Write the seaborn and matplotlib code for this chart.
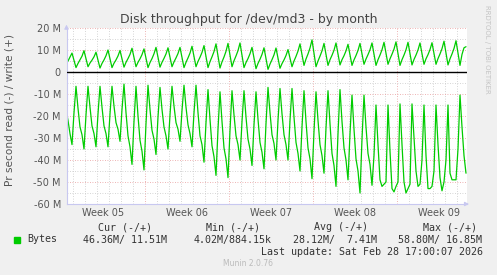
import matplotlib
matplotlib.use("Agg")
import matplotlib.pyplot as plt
import matplotlib.dates as mdates
from matplotlib.ticker import MultipleLocator, FuncFormatter, NullFormatter
from matplotlib.patches import Rectangle
import numpy as np
import pandas as pd
import seaborn as sns

# ---------------- data (MB/s), one sample every 4 h ----------------
start_time = "2026-01-26 10:00"
# read (plotted negative), per day: h2, h6, h10, h14, h18, h22
read_mb = [
    -17, -22, -28, -33,                       # Jan 26 (h10..h22)
    -18.5, -6.5, -16.5, -25, -28.5, -35,
    -19.5, -6.5, -16, -24.5, -28, -34,
    -19, -6.5, -16, -24.5, -28, -34,
    -19, -6.5, -15.5, -23, -26, -31.5,
    -17, -5.5, -18.5, -29, -34, -42,
    -22.5, -6.5, -20, -31, -36, -44.5,
    -23.5, -6, -17, -26.5, -30.5, -37.5,
    -20.5, -7, -17, -25, -29, -35,
    -19.5, -6.5, -15.5, -23, -26, -31.5,
    -17.5, -6, -16, -24, -28, -34,
    -18.5, -6, -18.5, -29, -33, -41,
    -23, -8, -21.5, -33.5, -38.5, -47,
    -26, -9, -22.5, -34.5, -39.5, -48,
    -26.5, -8.5, -19.5, -29, -33, -40,
    -22.5, -8.5, -20.5, -30.5, -35, -42.5,
    -24, -9, -21.5, -32, -36.5, -44,
    -23.5, -7, -18.5, -28.5, -32.5, -40,
    -22, -7.5, -19, -28.5, -33, -40,
    -22, -7.5, -20.5, -32, -37, -45,
    -25, -8.5, -22.5, -34.5, -39.5, -48.5,
    -27, -9, -22, -33, -38, -46,
    -25.5, -8.5, -23.5, -37, -42.5, -52,
    -28, -8, -22.5, -34.5, -40, -49,
    -28, -10.5, -26, -39.5, -45, -55,
    -30.5, -10.5, -25, -37, -42, -51.5,
    -38, -15, -33, -49, -52, -51,
    -50, -15, -36, -53, -54.5, -52,
    -50, -14.5, -33, -50, -55, -53,
    -51, -14.5, -30, -45, -52, -51,
    -40, -15, -38, -53, -53, -52,
    -45, -15, -33, -48, -54, -50,
    -40, -15, -46, -49, -49, -49,
    -35, -10.5, -25, -38, -46,                # Feb 28 (h2..h18)
]
write_mb = [
    3.5, 5, 6.8, 8.6,
    5.3, 2, 3.9, 5.5, 7.2, 9.7,
    6, 2.4, 4.1, 5.4, 6.9, 9,
    5.4, 1.8, 3.9, 5.5, 7.4, 10,
    6, 2, 4, 5.5, 7.3, 9.8,
    6, 2.2, 4.4, 6.1, 8, 10.8,
    6.6, 2.4, 4.4, 6, 7.9, 10.5,
    6.2, 2, 4.3, 6.1, 8.3, 11.2,
    6.7, 2.2, 4.4, 6.2, 8.2, 11,
    6.7, 2.4, 4.6, 6.4, 8.4, 11.2,
    6.6, 2, 4.4, 6.4, 8.6, 11.7,
    7, 2.4, 4.8, 6.7, 8.9, 12,
    7, 2, 4.7, 6.9, 9.3, 12.8,
    7.3, 1.8, 4.6, 6.8, 9.4, 13,
    7.7, 2.4, 5.1, 7.3, 9.7, 13.2,
    7.6, 2, 4.3, 6.1, 8.3, 11.2,
    6.4, 1.5, 3.9, 5.8, 8, 11,
    6.1, 1.2, 3.6, 5.6, 7.8, 10.9,
    6.3, 1.7, 3.8, 5.5, 7.5, 10.2,
    6.3, 2.4, 5, 7.1, 9.5, 12.8,
    7.9, 3, 5.9, 8.2, 10.9, 14.6,
    8.5, 2.4, 5, 7.2, 9.6, 13,
    8, 3, 5.6, 7.6, 9.9, 13.2,
    8.2, 3.2, 5.6, 7.4, 9.6, 12.6,
    7.8, 3, 5.5, 7.5, 9.8, 13,
    8.2, 3.5, 5.9, 7.9, 10.1, 13.2,
    8.1, 3, 5.6, 7.7, 10.1, 13.5,
    8.5, 3.5, 6, 8.1, 10.4, 13.7,
    8.4, 3, 5.6, 7.7, 10.1, 13.5,
    8.4, 3.2, 5.7, 7.7, 10, 13.2,
    8.4, 3.5, 6, 7.9, 10.2, 13.3,
    8.4, 3.5, 6.1, 8.2, 10.6, 14,
    8.6, 3.2, 6, 8.2, 10.7, 14.2,
    8.7, 3, 8, 11, 11.5,
]
week_labels = ["Week 05", "Week 06", "Week 07", "Week 08", "Week 09"]
week_starts = ["2026-01-26", "2026-02-02", "2026-02-09", "2026-02-16", "2026-02-23"]
legend_headers = ["Cur (-/+)", "Min (-/+)", "Avg (-/+)", "Max (-/+)"]
legend_values = ["46.36M/ 11.51M", "4.02M/884.15k", "28.12M/  7.41M", "58.80M/ 16.85M"]
series_name = "Bytes"

times = pd.date_range(start_time, periods=len(read_mb), freq="4h")
df = pd.DataFrame({"time": times, "read": read_mb, "write": write_mb})

# ---------------- figure ----------------
sns.set_theme(style="white")
plt.rcParams["font.family"] = ["DejaVu Sans"]
W, H = 497, 275
fig = plt.figure(figsize=(W / 100, H / 100), dpi=100, facecolor="#F0F0F0")

L, R, T, B = 66.5, 467, 28, 204
ax = fig.add_axes([L / W, 1 - B / H, (R - L) / W, (B - T) / H])
ax.set_facecolor("white")

green = "#00CC00"
sns.lineplot(data=df, x="time", y="write", color=green, lw=0.9, ax=ax)
sns.lineplot(data=df, x="time", y="read", color=green, lw=0.9, ax=ax)
ax.axhline(0, color="black", lw=1.0, zorder=3)

ax.set_xlim(pd.Timestamp("2026-01-26 11:00"), pd.Timestamp("2026-02-28 20:00"))
ax.set_ylim(-60, 20)
ax.set_xlabel("")
ax.set_ylabel("")

# grid
ax.yaxis.set_major_locator(MultipleLocator(10))
ax.yaxis.set_minor_locator(MultipleLocator(5))
ax.xaxis.set_major_locator(mdates.WeekdayLocator(byweekday=mdates.MO))
ax.xaxis.set_minor_locator(mdates.DayLocator())
ax.xaxis.set_major_formatter(NullFormatter())
ax.xaxis.set_minor_formatter(NullFormatter())
ax.yaxis.set_major_formatter(FuncFormatter(lambda v, p: "0" if v == 0 else f"{int(v)} M"))
ax.grid(which="minor", color="#c8c8c8", linestyle=(0, (1, 2)), lw=0.6)
ax.grid(which="major", color="#e89a9a", linestyle=(0, (1, 2)), lw=0.6)
ax.set_axisbelow(True)

ax.tick_params(axis="y", which="both", length=0, labelsize=7, labelcolor="#555555", pad=4)
ax.tick_params(axis="x", which="both", length=0)

for s in ["top", "right"]:
    ax.spines[s].set_visible(False)
for s in ["left", "bottom"]:
    ax.spines[s].set_color("#c8c8f0")
    ax.spines[s].set_linewidth(0.8)

# axis arrows
ax.annotate("", xy=(0, 1.035), xytext=(0, 0.98), xycoords="axes fraction",
            arrowprops=dict(arrowstyle="-|>", color="#c8c8f0", lw=0.8, mutation_scale=6))
ax.annotate("", xy=(1.012, 0), xytext=(0.99, 0), xycoords="axes fraction",
            arrowprops=dict(arrowstyle="-|>", color="#c8c8f0", lw=0.8, mutation_scale=6))

# week labels at week centres
for lab, ws in zip(week_labels, week_starts):
    xc = pd.Timestamp(ws) + pd.Timedelta(hours=84)
    ax.text(xc, -0.05, lab, transform=ax.get_xaxis_transform(), ha="center", va="center",
            fontsize=7, color="#555555")

def fx(x):
    return x / W

def fy(y):
    return 1 - y / H

# title
fig.text(fx(248.5), fy(19), "Disk throughput for /dev/md3 - by month", ha="center", va="center",
         fontsize=9, color="#444444")
# y label
fig.text(fx(10), fy(110), "Pr second read (-) / write (+)", rotation=90, ha="center", va="center",
         fontsize=7.6, color="#555555")
# rrdtool watermark
fig.text(fx(487), fy(5), "RRDTOOL / TOBI OETIKER", rotation=270, ha="center", va="top",
         fontsize=5, color="#c4c4c4")

# legend
mono = "DejaVu Sans Mono"
hdr_x = [125, 233, 341, 450]
for h, x in zip(legend_headers, hdr_x):
    fig.text(fx(x), fy(227.5), h, ha="center", va="center", fontsize=7.2, family=mono, color="#333333")
val_x = [83, 194, 293, 398]
for v, x in zip(legend_values, val_x):
    fig.text(fx(x), fy(239.5), v, ha="left", va="center", fontsize=7.2, family=mono, color="#333333")
fig.text(fx(27), fy(239.5), series_name, ha="left", va="center", fontsize=7.2, family=mono, color="#333333")
fig.patches.append(Rectangle((fx(14), fy(242.5)), 5.5 / W, 5.5 / H, transform=fig.transFigure,
                             color=green, zorder=5))
fig.text(fx(483), fy(251.7), "Last update: Sat Feb 28 17:00:07 2026", ha="right", va="center",
         fontsize=7.2, family=mono, color="#333333")
fig.text(fx(248), fy(263.5), "Munin 2.0.76", ha="center", va="center", fontsize=5.5, color="#bbbbbb")

fig.savefig("out.png", dpi=100, facecolor=fig.get_facecolor())
